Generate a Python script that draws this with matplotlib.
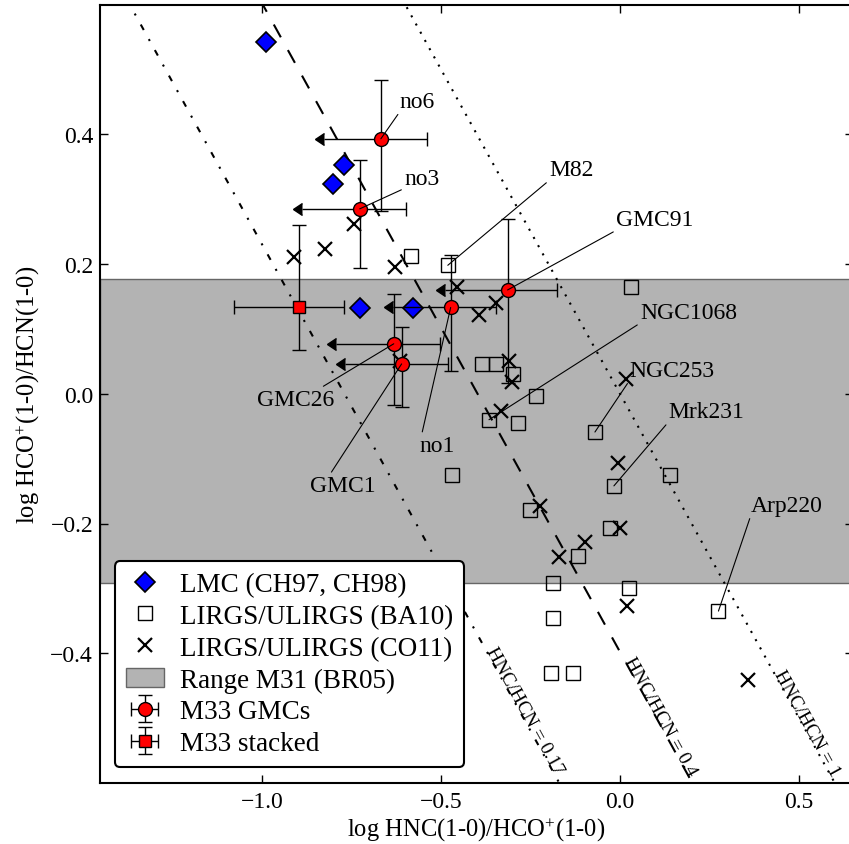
import numpy as np
import matplotlib
matplotlib.use("Agg")
import matplotlib.pyplot as plt
import matplotlib.lines as mlines
from matplotlib.patches import Patch

plt.rcParams['font.family'] = ['Liberation Serif', 'DejaVu Serif']
plt.rcParams['mathtext.fontset'] = 'custom'
plt.rcParams['mathtext.rm'] = 'Liberation Serif'
plt.rcParams['mathtext.it'] = 'Liberation Serif:italic'

# --- data (log HNC/HCO+, log HCO+/HCN) ---
# LMC (CH97, CH98)
lmc_x = [-0.989, -0.770, -0.801, -0.726, -0.579]
lmc_y = [0.542, 0.352, 0.323, 0.132, 0.132]

# LIRGS/ULIRGS (BA10)
ba10_x = [-0.585, -0.481, 0.031, -0.386, -0.346, -0.300, -0.236, -0.366, -0.284,
          -0.070, -0.470, -0.017, 0.140, -0.251, -0.028, -0.118, -0.186, 0.026,
          0.275, -0.186, -0.193, -0.130]
ba10_y = [0.212, 0.198, 0.165, 0.046, 0.046, 0.030, -0.004, -0.040, -0.045,
          -0.059, -0.125, -0.142, -0.125, -0.179, -0.207, -0.250, -0.291, -0.300,
          -0.335, -0.345, -0.430, -0.430]

# LIRGS/ULIRGS (CO11)
co11_x = [-0.743, -0.911, -0.825, -0.628, -0.456, -0.346, -0.395, -0.309, -0.301,
          -0.331, 0.017, -0.615, -0.005, -0.223, 0.000, -0.098, -0.170, 0.019, 0.358]
co11_y = [0.262, 0.211, 0.223, 0.196, 0.165, 0.140, 0.122, 0.050, 0.018,
          -0.027, 0.022, 0.050, -0.107, -0.173, -0.207, -0.228, -0.251, -0.327, -0.442]

# Range M31 (BR05)
m31_lo, m31_hi = -0.291, 0.1765

# M33 GMCs: no6, no3, GMC91, no1, GMC26, GMC1
gmc_x = [-0.668, -0.727, -0.314, -0.473, -0.632, -0.610]
gmc_y = [0.393, 0.285, 0.160, 0.133, 0.077, 0.046]
gmc_yerr_lo = [0.111, 0.091, 0.144, 0.098, 0.094, 0.066]
gmc_yerr_hi = [0.090, 0.075, 0.109, 0.081, 0.077, 0.057]
gmc_xerr_hi = [0.128, 0.128, 0.137, 0.128, 0.129, 0.130]
gmc_xlim_len = [0.16, 0.16, 0.175, 0.161, 0.16, 0.158]   # upper-limit arrows

# M33 stacked
stk_x, stk_y = [-0.897], [0.133]
stk_xerr = [[0.180], [0.127]]
stk_yerr = [[0.065], [0.127]]

# HNC/HCN ratio lines
ratios = [0.17, 0.4, 1]
ratio_labels = ['HNC/HCN = 0.17', 'HNC/HCN = 0.4', 'HNC/HCN = 1']
ratio_label_y = [-0.395, -0.410, -0.431]

# annotations
ann_labels = ['no6', 'no3', 'M82', 'GMC91', 'NGC1068', 'NGC253', 'Mrk231',
              'Arp220', 'GMC26', 'GMC1', 'no1']
ann_xy = [(-0.668, 0.393), (-0.727, 0.285), (-0.481, 0.198), (-0.314, 0.160),
          (-0.366, -0.040), (-0.070, -0.059), (-0.017, -0.142), (0.275, -0.335),
          (-0.632, 0.077), (-0.610, 0.046), (-0.473, 0.133)]
ann_text = [(-0.615, 0.4425), (-0.603, 0.324), (-0.198, 0.3365), (-0.011, 0.2595),
            (0.056, 0.1165), (0.026, 0.0277), (0.135, -0.036), (0.365, -0.1805),
            (-1.014, -0.0174), (-0.866, -0.1497), (-0.559, -0.0877)]
ann_relpos = [(0, 0)] * 8 + [(0.8, 1), (0.3, 1), (0.05, 1)]

# --- figure ---
fig = plt.figure(figsize=(8.49, 8.45), dpi=100)
ax = fig.add_axes([100 / 849, 61 / 845, 752.7 / 849, 778.5 / 845])

ax.axhspan(m31_lo, m31_hi, fc='0.7', ec='0.4', lw=1, zorder=0)

xs = np.array([-1.7, 0.9])
styles = [dict(dashes=(3, 5, 1, 5)), dict(dashes=(7, 7)), dict(dashes=(1, 3.5))]
for r, st in zip(ratios, styles):
    ax.plot(xs, np.log10(r) - xs, color='k', lw=1.5, zorder=1, **st)

for r, lab, ly in zip(ratios, ratio_labels, ratio_label_y):
    lx = np.log10(r) - ly
    ax.text(lx, ly, lab, rotation=-45, transform_rotates_text=True,
            rotation_mode='anchor', ha='left', va='baseline', fontsize=14)

h_lmc, = ax.plot(lmc_x, lmc_y, 'D', mfc='blue', mec='k', mew=1.2, ms=10,
                 ls='none', zorder=5)
h_ba, = ax.plot(ba10_x, ba10_y, 's', mfc='none', mec='k', mew=1, ms=10,
                ls='none', zorder=4)
h_co, = ax.plot(co11_x, co11_y, 'x', color='k', mew=1.6, ms=10, ls='none', zorder=4)

# upper limits on HNC/HCO+ (left arrows)
gx = np.array(gmc_x)
arrow_x = gx - np.array(gmc_xlim_len)
ax.hlines(gmc_y, arrow_x, gx, color='k', lw=1, zorder=6)
ax.plot(arrow_x, gmc_y, ls='none', marker=mlines.CARETLEFTBASE, color='k',
        ms=9, zorder=6)

h_gmc = ax.errorbar(gmc_x, gmc_y, xerr=[np.zeros(len(gmc_x)), gmc_xerr_hi],
                    yerr=[gmc_yerr_lo, gmc_yerr_hi], fmt='o', mfc='red', mec='k',
                    ms=10, ecolor='k', elinewidth=1, capsize=5, zorder=6)
h_stk = ax.errorbar(stk_x, stk_y, xerr=stk_xerr, yerr=stk_yerr, fmt='s',
                    mfc='red', mec='k', ms=9, ecolor='k', elinewidth=1,
                    capsize=5, zorder=6)

for lab, xy, xt, rp in zip(ann_labels, ann_xy, ann_text, ann_relpos):
    ax.annotate(lab, xy=xy, xytext=xt, fontsize=17, ha='left', va='baseline',
                arrowprops=dict(arrowstyle='-', lw=0.8, color='k', relpos=rp,
                                shrinkA=0, shrinkB=0), zorder=8)

ax.set_xlim(-1.4525, 0.65)
ax.set_ylim(-0.6, 0.6)
ax.set_xticks([-1.0, -0.5, 0.0, 0.5])
ax.set_yticks([-0.4, -0.2, 0.0, 0.2, 0.4])
ax.tick_params(direction='in', length=6, width=1, top=True, right=True,
               labelsize=17)
ax.tick_params(axis='x', pad=6)
ax.tick_params(axis='y', pad=5)
for sp in ax.spines.values():
    sp.set_linewidth(1.5)

ax.set_xlabel('log HNC(1-0)/HCO$^{+}$(1-0)', fontsize=17.7)
ax.set_ylabel('log HCO$^{+}$(1-0)/HCN(1-0)', fontsize=17.7)
ax.yaxis.set_label_coords(-0.077, 0.5)
ax.xaxis.set_label_coords(0.5, -0.042)

m31_patch = Patch(fc='0.7', ec='0.4', lw=1)
leg = ax.legend([h_lmc, h_ba, h_co, m31_patch, h_gmc, h_stk],
                ['LMC (CH97, CH98)', 'LIRGS/ULIRGS (BA10)', 'LIRGS/ULIRGS (CO11)',
                 'Range M31 (BR05)', 'M33 GMCs', 'M33 stacked'],
                loc='lower left', bbox_to_anchor=(0.02, 0.0205), borderaxespad=0,
                fontsize=19.5, labelspacing=0.25, handlelength=1.4, handletextpad=0.6,
                numpoints=1, fancybox=True, framealpha=1)
leg.get_frame().set_edgecolor('k')
leg.get_frame().set_linewidth(1.5)
leg.set_zorder(10)

fig.savefig('out.png', dpi=100)
